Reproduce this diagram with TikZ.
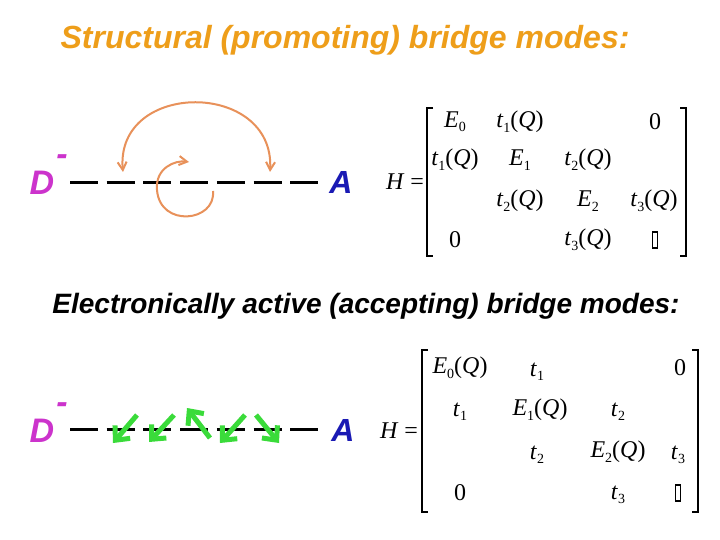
\documentclass[tikz,border=0pt]{standalone}
\usepackage{fontspec}
\setmainfont{Liberation Serif}
\newfontfamily\arial{Liberation Sans}
\usetikzlibrary{arrows.meta}
\definecolor{titleor}{HTML}{EE9E1A}
\definecolor{dmag}{HTML}{CC33CC}
\definecolor{ablue}{HTML}{1A1AB4}
\definecolor{arcor}{HTML}{E8915A}
\definecolor{grn}{HTML}{3ADB3A}
\newcommand\msub[1]{\raisebox{-0.4ex}{\fontsize{14}{14}\selectfont #1}}
\newcommand\mQ[2]{\textit{#1}\msub{#2}(\textit{Q})}
\newcommand\mX[2]{\textit{#1}\msub{#2}}
\begin{document}
\begin{tikzpicture}[x=1pt,y=-1pt,
  dlab/.style={font=\arial\bfseries\itshape\fontsize{34}{34}\selectfont,text=dmag,inner sep=0},
  alab/.style={font=\arial\bfseries\itshape\fontsize{32}{32}\selectfont,text=ablue,inner sep=0},
  chain/.style={line width=3pt,dash pattern=on 28pt off 8.7pt},
  mat/.style={font=\fontsize{24}{24}\selectfont,inner sep=0},
  brk/.style={line width=1.4pt},
  ortip/.style={Straight Barb[length=8pt,width=9pt]},
  orarr/.style={draw=arcor,line width=2pt,-{Straight Barb[length=8pt,width=9pt]}},
  grarr/.style={draw=grn,line width=5pt,-{Straight Barb[length=11pt,width=20pt]}}]
\path[fill=white] (0,0) rectangle (720,540);
\useasboundingbox (0,0) rectangle (720,540);
% titles
\node[text=titleor,font=\arial\bfseries\itshape\fontsize{32}{34}\selectfont] (t1) at (345,40) {Structural (promoting) bridge modes:};
\node[font=\arial\bfseries\itshape\fontsize{28}{30}\selectfont] (t2) at (366,306) {Electronically active (accepting) bridge modes:};
% top chain
\node[dlab] (d1) at (42,183) {D};
\node[dlab] (m1) at (62,160) {-};
\node[alab] (a1) at (341,182) {A};
\coordinate (c1s) at (70,183);
\coordinate (c1e) at (322,183);
\draw[chain] (c1s) -- (c1e);
\coordinate (bl) at (123,172);
\coordinate (br) at (270,172);
\draw[draw=arcor,line width=2pt,{Straight Barb[length=8pt,width=9pt]}-{Straight Barb[length=8pt,width=9pt]}] (bl) .. controls (115,80) and (275,80) .. (br);
\coordinate (sc0) at (213,191);
\coordinate (sc1) at (189,162);
\draw[orarr] (sc0) .. controls (216,222) and (160,228) .. (157,190) .. controls (155,168) and (175,160) .. (sc1);
% top matrix
\node[mat] (h1) at (405,182) {\textit{H} =};
\draw[brk] (433,108) -- (427,108) -- (427,256) -- (433,256);
\draw[brk] (680,108) -- (686,108) -- (686,256) -- (680,256);
\node[mat] (e00) at (455,122) {\mX{E}{0}};
\node[mat] (e01) at (520,122) {\mQ{t}{1}};
\node[mat] (e03) at (655,122) {0};
\node[mat] (e10) at (455,160) {\mQ{t}{1}};
\node[mat] (e11) at (520,160) {\mX{E}{1}};
\node[mat] (e12) at (588,160) {\mQ{t}{2}};
\node[mat] (e21) at (520,201) {\mQ{t}{2}};
\node[mat] (e22) at (588,201) {\mX{E}{2}};
\node[mat] (e23) at (654,201) {\mQ{t}{3}};
\node[mat] (e30) at (455,240) {0};
\node[mat] (e32) at (588,240) {\mQ{t}{3}};
\node[draw,line width=1.2pt,minimum width=5pt,minimum height=16pt,inner sep=0] (e33) at (655,240) {};
% bottom chain
\node[dlab] (d2) at (42,431) {D};
\node[dlab] (m2) at (62,408) {-};
\node[alab] (a2) at (343,430) {A};
\coordinate (c2s) at (70,429);
\coordinate (c2e) at (322,429);
\draw[chain] (c2s) -- (c2e);
\coordinate (g1s) at (137,415); \coordinate (g1e) at (113,443);
\coordinate (g2s) at (174,415); \coordinate (g2e) at (149,442);
\coordinate (g3s) at (210,438); \coordinate (g3e) at (187,408);
\coordinate (g4s) at (245,415); \coordinate (g4e) at (220,443);
\coordinate (g5s) at (256,415); \coordinate (g5e) at (279,443);
\draw[grarr] (g1s) -- (g1e);
\draw[grarr] (g2s) -- (g2e);
\draw[grarr] (g3s) -- (g3e);
\draw[grarr] (g4s) -- (g4e);
\draw[grarr] (g5s) -- (g5e);
% bottom matrix
\node[mat] (h2) at (399,431) {\textit{H} =};
\draw[brk] (428,350) -- (422,350) -- (422,512) -- (428,512);
\draw[brk] (692,350) -- (698,350) -- (698,512) -- (692,512);
\node[mat] (f00) at (460,368) {\mQ{E}{0}};
\node[mat] (f01) at (537,372) {\mX{t}{1}};
\node[mat] (f03) at (680,368) {0};
\node[mat] (f10) at (460,412) {\mX{t}{1}};
\node[mat] (f11) at (540,410) {\mQ{E}{1}};
\node[mat] (f12) at (618,412) {\mX{t}{2}};
\node[mat] (f21) at (537,455) {\mX{t}{2}};
\node[mat] (f22) at (618,452) {\mQ{E}{2}};
\node[mat] (f23) at (678,455) {\mX{t}{3}};
\node[mat] (f30) at (460,493) {0};
\node[mat] (f32) at (618,495) {\mX{t}{3}};
\node[draw,line width=1.2pt,minimum width=5pt,minimum height=16pt,inner sep=0] (f33) at (678,493) {};
\end{tikzpicture}
\end{document}
